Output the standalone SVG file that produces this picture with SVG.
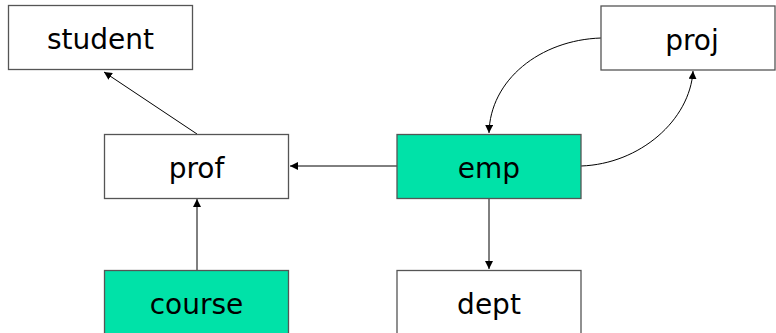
<svg xmlns="http://www.w3.org/2000/svg" width="776" height="333" viewBox="0 0 776 333">
<defs>
<style>
.box{stroke:#555;stroke-width:1.3}
.w{fill:#fff}
.g{fill:#00E2A8}
.t{font-family:"DejaVu Sans",Verdana,sans-serif;font-size:28px;fill:#000;text-anchor:middle}
.c{fill:none;stroke:#000;stroke-width:1}
</style>
<marker id="ah" viewBox="0 0 10 10" refX="10" refY="5" markerWidth="8" markerHeight="8" markerUnits="userSpaceOnUse" orient="auto">
<path d="M0,0 L10,5 L0,10 z" fill="#000"/>
</marker>
</defs>
<rect width="776" height="333" fill="#fff"/>
<g id="connectors">
<path class="c" d="M197,134 L104,72" marker-end="url(#ah)"/>
<path class="c" d="M397,166 L290,166" marker-end="url(#ah)"/>
<path class="c" d="M197,270 L197,199" marker-end="url(#ah)"/>
<path class="c" d="M489,198 L489,269" marker-end="url(#ah)"/>
<path class="c" d="M601,38 C540,40 490,80 489,133" marker-end="url(#ah)"/>
<path class="c" d="M581,166 C640,164 690,120 693,71" marker-end="url(#ah)"/>
</g>
<g id="student"><rect class="box w" x="8.5" y="5.5" width="184" height="64"/><text class="t" x="100.5" y="49">student</text></g>
<g id="proj"><rect class="box w" x="601" y="6" width="174" height="64"/><text class="t" x="692" y="50">proj</text></g>
<g id="prof"><rect class="box w" x="104.5" y="134.5" width="184" height="64"/><text class="t" x="196.5" y="178">prof</text></g>
<g id="emp"><rect class="box g" x="397" y="134.5" width="184" height="64"/><text class="t" x="489" y="178">emp</text></g>
<g id="course"><rect class="box g" x="104.5" y="270.5" width="184" height="64"/><text class="t" x="196.5" y="314">course</text></g>
<g id="dept"><rect class="box w" x="397" y="270.5" width="184" height="64"/><text class="t" x="489" y="314">dept</text></g>
</svg>
